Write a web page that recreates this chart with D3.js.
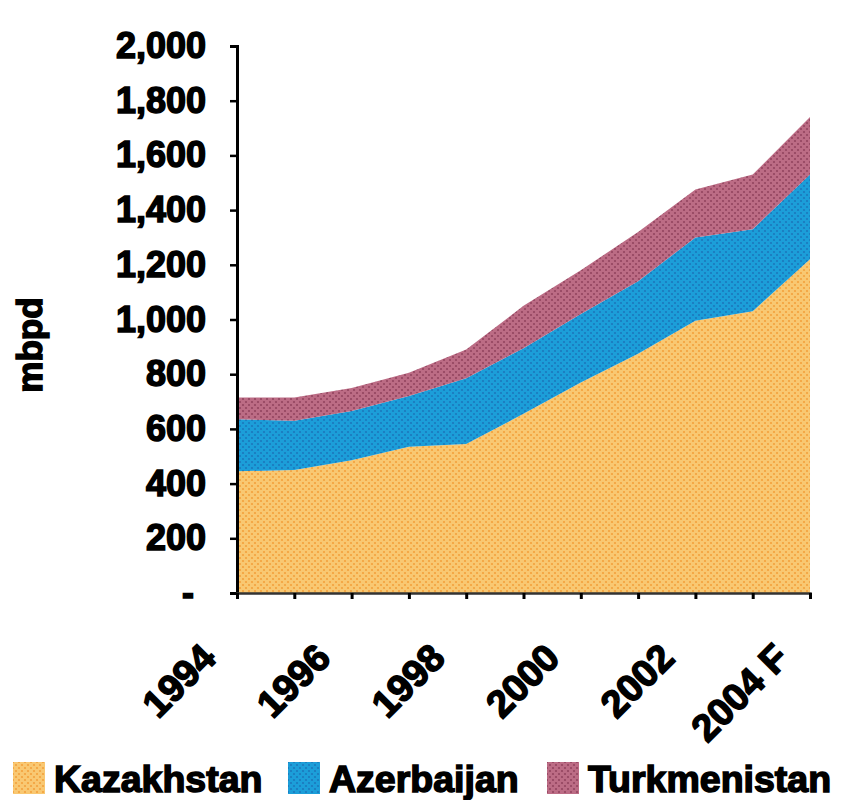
<!DOCTYPE html>
<html>
<head>
<meta charset="utf-8">
<script src="https://cdn.jsdelivr.net/npm/d3@7"></script>
<style>
  body { margin: 0; background: #fff; }
  text { font-family: "Liberation Sans", Arial, sans-serif; font-weight: bold; fill: #000; }
</style>
</head>
<body>
<svg id="chart" width="843" height="800"></svg>
<script>
// values (mbpd)
var years        = [1994, 1995, 1996, 1997, 1998, 1999, 2000, 2001, 2002, 2003, 2004];
var kazakhstan   = [445, 450, 485, 535, 545, 655, 770, 875, 995, 1030, 1220];
var azerbaijan   = [190, 180, 180, 185, 240, 240, 250, 265, 305, 300, 310];
var turkmenistan = [80, 85, 85, 85, 105, 155, 160, 180, 175, 200, 210];
var seriesNames  = ["Kazakhstan", "Azerbaijan", "Turkmenistan"];
var yTicks       = [0, 200, 400, 600, 800, 1000, 1200, 1400, 1600, 1800, 2000];
var xLabels      = {1994: "1994", 1996: "1996", 1998: "1998", 2000: "2000", 2002: "2002", 2004: "2004 F"};

var svg = d3.select("#chart");

var x = d3.scaleLinear().domain([1994, 2004]).range([237, 810]);
var y = d3.scaleLinear().domain([0, 2000]).range([593, 46]);

// dotted textures like the printed original
var fills = [
    {id: "pKaz", base: "#f9c872", dot: "#f3a13c"},
    {id: "pAze", base: "#1c9ed9", dot: "#1a78bd"},
    {id: "pTur", base: "#bc6c85", dot: "#93445f"}
];
var defs = svg.append("defs");
fills.forEach(function(f){
    var p = defs.append("pattern")
        .attr("id", f.id)
        .attr("width", 6).attr("height", 6)
        .attr("patternUnits", "userSpaceOnUse");
    p.append("rect").attr("width", 6).attr("height", 6).attr("fill", f.base);
    [[0,0],[6,0],[0,6],[6,6],[3,3]].forEach(function(c){
        p.append("circle").attr("cx", c[0]).attr("cy", c[1]).attr("r", 1.1).attr("fill", f.dot);
    });
});

var rows = years.map(function(yr, i){
    return {year: yr, Kazakhstan: kazakhstan[i], Azerbaijan: azerbaijan[i], Turkmenistan: turkmenistan[i]};
});

var stacked = d3.stack().keys(seriesNames)(rows);

var area = d3.area()
    .x(function(d){ return x(d.data.year); })
    .y0(function(d){ return y(d[0]); })
    .y1(function(d){ return y(d[1]); });

svg.append("g").selectAll("path")
    .data(stacked)
    .enter().append("path")
    .attr("d", area)
    .attr("fill", function(d, i){ return "url(#" + fills[i].id + ")"; });

// y axis
var yAxis = svg.append("g")
    .attr("transform", "translate(237,0)")
    .call(d3.axisLeft(y)
        .tickValues(yTicks)
        .tickSize(7)
        .tickPadding(24)
        .tickFormat(function(d){ return d === 0 ? "-" : d3.format(",")(d); }));
yAxis.select(".domain").attr("stroke", "#000").attr("stroke-width", 3);
yAxis.selectAll(".tick line").attr("stroke", "#000").attr("stroke-width", 2.5);
yAxis.selectAll(".tick text")
    .attr("font-size", 36)
    .attr("stroke", "#000").attr("stroke-width", 1.5)
    .attr("dx", function(d){ return d === 0 ? -12 : 0; });

// x axis
var xAxis = svg.append("g")
    .attr("transform", "translate(0,593)")
    .call(d3.axisBottom(x)
        .tickValues(years)
        .tickSize(6)
        .tickFormat(""));
xAxis.select(".domain").attr("stroke", "#333").attr("stroke-width", 2.5);
xAxis.selectAll(".tick line").attr("stroke", "#000").attr("stroke-width", 3);

svg.append("g").selectAll("text")
    .data(years.filter(function(yr){ return xLabels[yr]; }))
    .enter().append("text")
    .attr("transform", function(yr){ return "translate(" + (x(yr) - 19) + ",660) rotate(-45)"; })
    .attr("text-anchor", "end")
    .attr("font-size", 38)
    .attr("stroke", "#000").attr("stroke-width", 1.5)
    .text(function(yr){ return xLabels[yr]; });

// axis title
svg.append("text")
    .attr("transform", "translate(42,345) rotate(-90)")
    .attr("text-anchor", "middle")
    .attr("font-size", 35)
    .attr("stroke", "#000").attr("stroke-width", 1.5)
    .text("mbpd");

// legend
var legendX = [13, 288, 547];
var legend = svg.append("g").selectAll("g")
    .data(seriesNames)
    .enter().append("g")
    .attr("transform", function(d, i){ return "translate(" + legendX[i] + ",762)"; });
legend.append("rect")
    .attr("width", 32).attr("height", 32)
    .attr("fill", function(d, i){ return "url(#" + fills[i].id + ")"; });
legend.append("text")
    .attr("x", 41).attr("y", 30)
    .attr("font-size", 37.5)
    .attr("stroke", "#000").attr("stroke-width", 1.5)
    .text(function(d){ return d; });
</script>
</body>
</html>
